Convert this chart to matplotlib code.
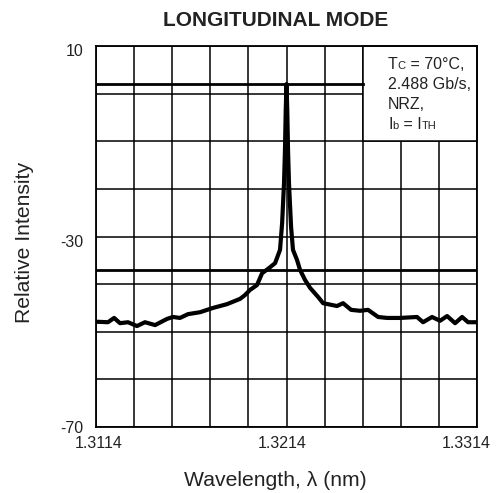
import matplotlib
matplotlib.use("Agg")
import matplotlib.pyplot as plt
from matplotlib.transforms import ScaledTranslation
from matplotlib.patches import Rectangle
from matplotlib.offsetbox import TextArea, HPacker, VPacker, AnchoredOffsetbox

plt.rcParams['font.family'] = ['Liberation Sans', 'DejaVu Sans']

# Spectrum (wavelength in nm, intensity in dB)
wavelength = [1.31144, 1.31203, 1.31235, 1.31266, 1.31308, 1.31355, 1.31397, 1.31450,
              1.31513, 1.31544, 1.31581, 1.31623, 1.31686, 1.31754, 1.31828, 1.31896,
              1.31922, 1.31949, 1.31985, 1.32012, 1.32043, 1.32080, 1.32106, 1.32117,
              1.32127, 1.32132, 1.32136, 1.32140, 1.32144, 1.32148, 1.32153, 1.32164,
              1.32174, 1.32195, 1.32211, 1.32237, 1.32264, 1.32306, 1.32332, 1.32405,
              1.32437, 1.32479, 1.32526, 1.32568, 1.32621, 1.32668, 1.32736, 1.32825,
              1.32857, 1.32904, 1.32946, 1.32983, 1.33025, 1.33062, 1.33093, 1.33140]
intensity = [-47.9, -48.0, -47.1, -48.2, -48.0, -48.8, -48.0, -48.6,
             -47.3, -46.9, -47.1, -46.3, -45.9, -45.0, -44.2, -43.1,
             -42.3, -41.2, -40.2, -37.7, -36.8, -35.6, -32.8, -27.2,
             -18.8, -11.8, -3.4, 2.0, -3.4, -11.8, -18.8, -28.0,
             -32.8, -34.9, -37.0, -39.1, -40.8, -42.7, -44.0, -44.6,
             -44.0, -45.4, -45.6, -45.4, -46.9, -47.1, -47.1, -46.9,
             -48.0, -46.9, -47.7, -46.7, -48.2, -46.9, -48.0, -48.0]

peak_level = 2.0
side_level = -37.0
x_labels = [1.3114, 1.3214, 1.3314]
y_labels = [10, -30, -70]
x_grid = [1.3114 + 0.002 * i for i in range(11)]
y_grid = [10 - 10 * i for i in range(9)]

fig = plt.figure(figsize=(4.99, 4.93), dpi=100)
ax = fig.add_axes([96 / 499, 1 - 427 / 493, 381 / 499, 381 / 493])
ax.set_xlim(1.3114, 1.3314)
ax.set_ylim(-70, 10)

ax.set_xticks(x_labels)
ax.set_xticklabels(["1.3114", "1.3214", "1.3314"])
ax.set_xticks(x_grid, minor=True)
ax.set_yticks(y_labels)
ax.set_yticklabels(["10", "-30", "-70"])
ax.set_yticks(y_grid, minor=True)
ax.tick_params(which='both', length=0, labelsize=11.5, labelcolor='#222222')
ax.tick_params(axis='x', pad=6.5)
ax.tick_params(axis='y', pad=9)
ax.grid(which='both', color='black', linewidth=1.1)
for sp in ax.spines.values():
    sp.set_linewidth(1.3)

# shift tick labels a bit like the original
for lab, dx in zip(ax.get_xticklabels(), [3, -4, -11]):
    lab.set_transform(lab.get_transform() + ScaledTranslation(dx / 100, 0, fig.dpi_scale_trans))
for lab, dy in zip(ax.get_yticklabels(), [-3.5, -4.5, 0]):
    lab.set_transform(lab.get_transform() + ScaledTranslation(0, dy / 100, fig.dpi_scale_trans))

# marker lines
ax.plot([1.3114, 1.3254], [peak_level, peak_level], color='black', linewidth=2.0, zorder=3)
ax.axhline(side_level, color='black', linewidth=2.0, zorder=3)

# spectrum
ax.plot(wavelength, intensity, color='black', linewidth=3.0, zorder=4,
        solid_joinstyle='round', solid_capstyle='round')

# condition box
ax.add_patch(Rectangle((1.3254, -10), 0.006, 20, facecolor='white', edgecolor='black',
                       linewidth=1.1, zorder=2.5, clip_on=False))

big = dict(fontsize=11.5, color='#222222')
small = dict(fontsize=8, color='#222222')
lines = [
    [("T", big), ("C", small), (" = 70°C,", big)],
    [("2.488 Gb/s,", big)],
    [("NRZ,", big)],
    [("I", big), ("b", small), (" = I", big), ("TH", small)],
]
rows = [HPacker(children=[TextArea(t, textprops=p) for t, p in ln], align="baseline", pad=0, sep=0)
        for ln in lines]
box = VPacker(children=rows, align="left", pad=0, sep=3.5)
anchored = AnchoredOffsetbox(loc='upper left', child=box, frameon=False, pad=0, borderpad=0,
                             bbox_to_anchor=(388 / 499, 1 - 57 / 493),
                             bbox_transform=fig.transFigure)
anchored.set_zorder(5)
ax.add_artist(anchored)

fig.text(276 / 499, 1 - 20 / 493, "LONGITUDINAL MODE", ha='center', va='center',
         fontsize=15, fontweight='bold', color='#222222')
fig.text(275 / 499, 1 - 480 / 493, "Wavelength, λ (nm)", ha='center', va='center',
         fontsize=15.2, color='#222222')
fig.text(25 / 499, 1 - 242 / 493, "Relative Intensity", ha='center', va='center',
         rotation=90, fontsize=15.2, color='#222222')

fig.savefig("out.png", dpi=100)
